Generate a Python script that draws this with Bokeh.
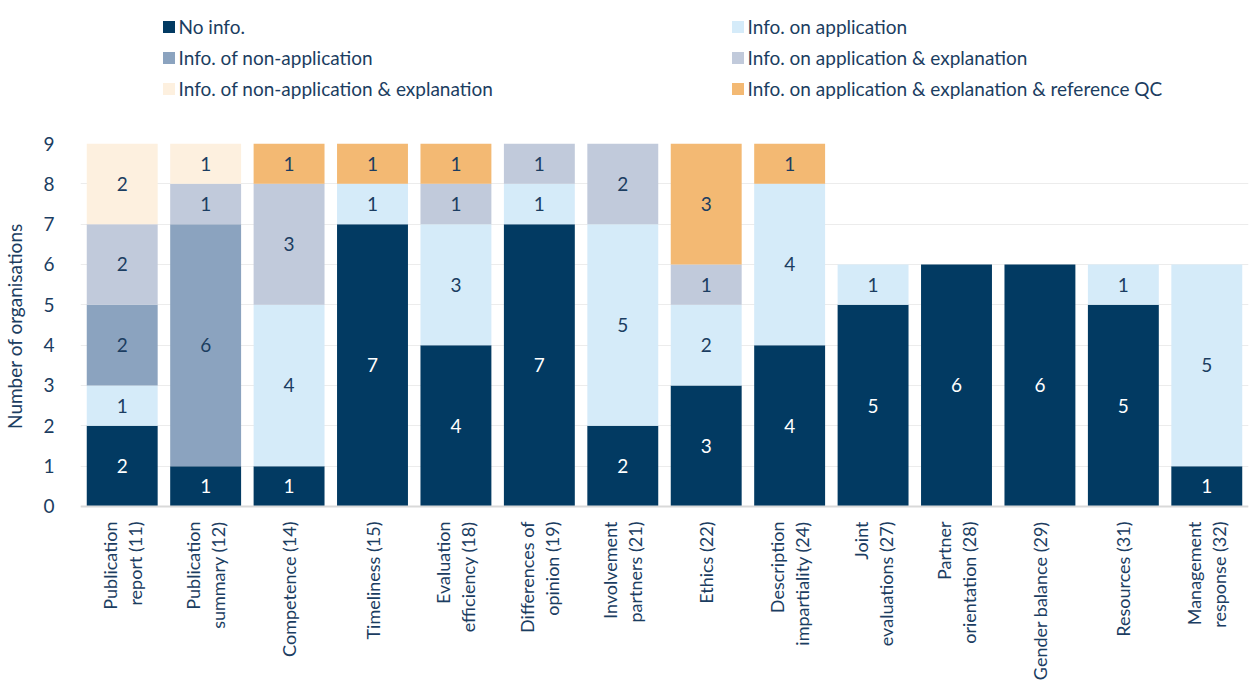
import numpy as np
from bokeh.plotting import figure
from bokeh.layouts import column
from bokeh.models import ColumnDataSource, Legend, LegendItem, FactorRange, Range1d, Span
from bokeh.core.properties import value
from bokeh.embed import file_html
from bokeh.resources import INLINE

categories = ["Publication report (11)", "Publication summary (12)", "Competence (14)",
              "Timeliness (15)", "Evaluation efficiency (18)", "Differences of opinion (19)",
              "Involvement partners (21)", "Ethics (22)", "Description impartiality (24)",
              "Joint evaluations (27)", "Partner orientation (28)", "Gender balance (29)",
              "Resources (31)", "Management response (32)"]
tick_labels = ["Publication\nreport (11)", "Publication\nsummary (12)", "Competence (14)",
               "Timeliness (15)", "Evaluation\nefficiency (18)", "Differences of\nopinion (19)",
               "Involvement\npartners (21)", "Ethics (22)", "Description\nimpartiality (24)",
               "Joint\nevaluations (27)", "Partner\norientation (28)", "Gender balance (29)",
               "Resources (31)", "Management\nresponse (32)"]
series_names = ["No info.", "Info. on application", "Info. of non-application",
                "Info. on application & explanation", "Info. of non-application & explanation",
                "Info. on application & explanation & reference QC"]
no_info = [2, 1, 1, 7, 4, 7, 2, 3, 4, 5, 6, 6, 5, 1]
info_app = [1, 0, 4, 1, 3, 1, 5, 2, 4, 1, 0, 0, 1, 5]
info_nonapp = [2, 6, 0, 0, 0, 0, 0, 0, 0, 0, 0, 0, 0, 0]
info_app_expl = [2, 1, 3, 0, 1, 1, 2, 1, 0, 0, 0, 0, 0, 0]
info_nonapp_expl = [2, 1, 0, 0, 0, 0, 0, 0, 0, 0, 0, 0, 0, 0]
info_app_expl_qc = [0, 0, 1, 1, 1, 0, 0, 3, 1, 0, 0, 0, 0, 0]
y_ticks = [0, 1, 2, 3, 4, 5, 6, 7, 8, 9]

colors = ["#023A62", "#D5EBF9", "#8BA3BF", "#C1CADB", "#FDF0DF", "#F3B973"]
label_colors = ["#FFFFFF", "#1B3D61", "#1B3D61", "#1B3D61", "#1B3D61", "#1B3D61"]
TEXT = "#1B3D61"
FONT = "Lato"
FS = "19px"
W = 1250

series = [no_info, info_app, info_nonapp, info_app_expl, info_nonapp_expl, info_app_expl_qc]
keys = ["s0", "s1", "s2", "s3", "s4", "s5"]
data = {"cat": categories}
for k, s in zip(keys, series):
    data[k] = s
source = ColumnDataSource(data)

# ---------- legend strip (top) ----------
p0 = figure(width=W, height=131, x_range=Range1d(0, 1170), y_range=Range1d(0, 131),
            output_backend="svg", toolbar_location=None,
            min_border_left=78, min_border_right=2, min_border_top=0, min_border_bottom=0)
p0.axis.visible = False
p0.grid.visible = False
p0.outline_line_color = None
# legend proxies: one off-screen, zero-height bar per series (only used for the swatches)
proxies = [p0.vbar(x=[-50], top=[0], bottom=[0], width=1, color=c, line_color=None)
           for c in colors]

def make_legend(idx, loc):
    items = [LegendItem(label=series_names[i], renderers=[proxies[i]]) for i in idx]
    return Legend(items=items, location=loc, orientation="vertical", padding=0, margin=0,
                  spacing=8, glyph_width=15, glyph_height=15, label_height=23,
                  label_standoff=3, label_text_font=FONT, label_text_font_size=FS,
                  label_text_color=TEXT, label_text_baseline="middle",
                  border_line_color=None, background_fill_alpha=0)

p0.add_layout(make_legend([0, 2, 4], (80.5, 31.5)), "center")
p0.add_layout(make_legend([1, 3, 5], (649.5, 31.5)), "center")

# ---------- main chart ----------
p = figure(width=W, height=389, x_range=FactorRange(factors=categories),
           y_range=Range1d(-0.05, 9), output_backend="svg", toolbar_location=None,
           min_border_left=78, min_border_right=2, min_border_top=12, min_border_bottom=12)
p.outline_line_color = None

p.vbar_stack(keys, x="cat", width=0.85, source=source, color=colors, line_color=None)

lx, ly, lt, lc = [], [], [], []
base = np.zeros(len(categories))
for s, c in zip(series, label_colors):
    arr = np.array(s, dtype=float)
    for i, v in enumerate(arr):
        if v > 0:
            lx.append(categories[i])
            ly.append(base[i] + v / 2.0)
            lt.append(str(int(v)))
            lc.append(c)
    base = base + arr
lsrc = ColumnDataSource(dict(x=lx, y=ly, t=lt, c=lc))
p.text(x="x", y="y", text="t", text_color="c", source=lsrc, text_align="center",
       text_baseline="middle", text_font=value(FONT), text_font_size=FS)

p.xaxis.visible = False
p.add_layout(Span(location=0, dimension="width", line_color="#D9D9D9", line_width=2))

p.yaxis.ticker = y_ticks
p.yaxis.axis_label = "Number of organisations"
p.yaxis.axis_label_text_font = FONT
p.yaxis.axis_label_text_font_size = FS
p.yaxis.axis_label_text_font_style = "normal"
p.yaxis.axis_label_text_color = TEXT
p.yaxis.axis_label_standoff = 14
p.yaxis.major_label_text_font = FONT
p.yaxis.major_label_text_font_size = FS
p.yaxis.major_label_text_color = TEXT
p.yaxis.major_label_standoff = 20
p.yaxis.major_tick_line_color = None
p.yaxis.minor_tick_line_color = None
p.yaxis.axis_line_color = None

p.xgrid.grid_line_color = None
p.ygrid.grid_line_color = "#ECECEC"
p.ygrid.grid_line_width = 1

# ---------- category labels (bottom strip) ----------
p2 = figure(width=W, height=163, x_range=p.x_range, y_range=Range1d(-163, 0),
            output_backend="svg", toolbar_location=None,
            min_border_left=78, min_border_right=2, min_border_top=0, min_border_bottom=0)
p2.axis.visible = False
p2.grid.visible = False
p2.outline_line_color = None

tx, tt, toff = [], [], []
for c, lab in zip(categories, tick_labels):
    lines = lab.split("\n")
    n = len(lines)
    for j, line in enumerate(lines):
        tx.append(c)
        tt.append(line)
        toff.append((j - (n - 1) / 2.0) * 25)
tsrc = ColumnDataSource(dict(x=tx, t=tt, off=toff, y=[-1] * len(tx)))
p2.text(x="x", y="y", text="t", x_offset="off", source=tsrc, angle=np.pi / 2,
        text_align="right", text_baseline="middle", text_font=value(FONT),
        text_font_size="18px", text_color=TEXT)

layout = column(p0, p, p2, spacing=0)
open("out.html", "w").write(file_html(layout, INLINE))
